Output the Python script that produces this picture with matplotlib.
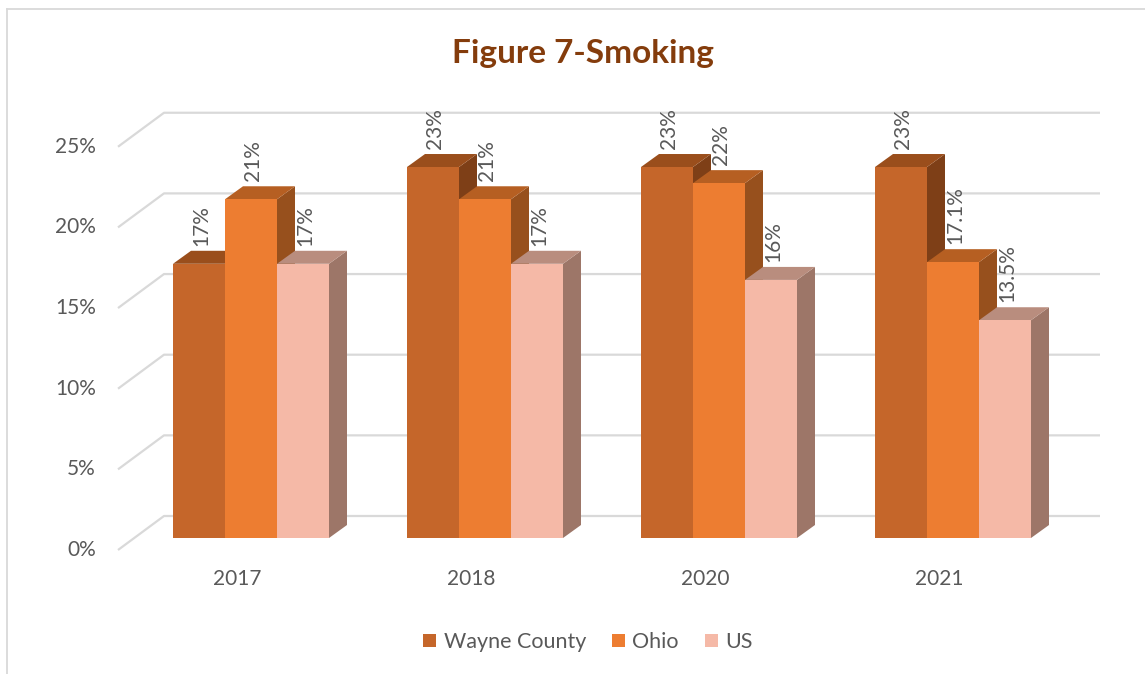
import matplotlib
matplotlib.use('Agg')
import matplotlib.pyplot as plt
from matplotlib.patches import Polygon, Patch
from matplotlib.lines import Line2D

plt.rcParams['font.family'] = ['Lato', 'DejaVu Sans']

# ---- data ----
years = ['2017', '2018', '2020', '2021']
series_names = ['Wayne County', 'Ohio', 'US']
wayne = [17, 23, 23, 23]
ohio = [21, 21, 22, 17.1]
us = [17, 17, 16, 13.5]
wayne_labels = ['17%', '23%', '23%', '23%']
ohio_labels = ['21%', '21%', '22%', '17.1%']
us_labels = ['17%', '17%', '16%', '13.5%']
yticks = [0, 5, 10, 15, 20, 25]
ytick_labels = ['0%', '5%', '10%', '15%', '20%', '25%']

series_values = [wayne, ohio, us]
series_labels = [wayne_labels, ohio_labels, us_labels]
front_colors = ['#C5662A', '#ED7D31', '#F5B9A7']
top_colors = ['#9A4E1C', '#B65F22', '#B98D7E']
side_colors = ['#7E3F17', '#97501D', '#9D7668']
text_color = '#595959'
grid_color = '#D9D9D9'

W, H = 1145, 674
fig = plt.figure(figsize=(W / 100, H / 100), dpi=100)
# axes placed in pixel layout; data plane = bar front plane
ax_l, ax_r, ax_t, ax_b = 100, 1110, 100, 560
ax = fig.add_axes([ax_l / W, 1 - ax_b / H, (ax_r - ax_l) / W, (ax_b - ax_t) / H])
x0_px, step_px = 251, 234          # pixel of category 0 center, px per category
y0_px, ypx = 538, 16.13            # pixel of 0% on bar plane, px per percent
ax.set_xlim((ax_l - x0_px) / step_px, (ax_r - x0_px) / step_px)
ax.set_ylim((y0_px - ax_b) / ypx, (y0_px - ax_t) / ypx)
ax.axis('off')

ppx = (ax_r - ax_l) / (ax.get_xlim()[1] - ax.get_xlim()[0])
ppy = (ax_b - ax_t) / (ax.get_ylim()[1] - ax.get_ylim()[0])


def off(x, y, dxp, dyp):
    return (x + dxp / ppx, y + dyp / ppy)


# depth offsets (pixels, y up)
bar_d = (18, 13)
wall_d = (30, 22)
floor_d = (-16, -12)
x_wall_l, x_wall_r = -0.5, len(years) - 0.5
fs = 15

# gridlines on side wall and back wall
for t, lab in zip(yticks, ytick_labels):
    p_front = off(x_wall_l, t, *floor_d)
    p_back_l = off(x_wall_l, t, *wall_d)
    p_back_r = off(x_wall_r, t, *wall_d)
    ax.plot([p_front[0], p_back_l[0], p_back_r[0]],
            [p_front[1], p_back_l[1], p_back_r[1]],
            color=grid_color, lw=1.6, zorder=1, solid_capstyle='butt')
    ax.annotate(lab, (x_wall_l, t), xytext=(-38, -12), textcoords='offset pixels',
                ha='right', va='center', fontsize=fs, color=text_color)

bw = 52 / step_px
z = 2.0
for i, yr in enumerate(years):
    for s in range(len(series_names)):
        v = series_values[s][i]
        xc = i + (s - 1) * bw
        xl, xr = xc - bw / 2, xc + bw / 2
        dx, dy = bar_d[0] / ppx, bar_d[1] / ppy
        side = Polygon([(xr, 0), (xr, v), (xr + dx, v + dy), (xr + dx, dy)],
                       closed=True, facecolor=side_colors[s], edgecolor='none', zorder=z)
        top = Polygon([(xl, v), (xr, v), (xr + dx, v + dy), (xl + dx, v + dy)],
                      closed=True, facecolor=top_colors[s], edgecolor='none', zorder=z + 0.01)
        ax.add_patch(side)
        ax.add_patch(top)
        ax.bar(xc, v, width=bw, color=front_colors[s], zorder=z + 0.02, linewidth=0)
        z += 0.1
        ax.annotate(series_labels[s][i], (xc, v), xytext=(2, 18), textcoords='offset pixels',
                    rotation=90, ha='center', va='bottom', fontsize=fs,
                    color=text_color, zorder=50)
    ax.annotate(yr, (i, 0), xytext=(-14, -41), textcoords='offset pixels',
                ha='center', va='center', fontsize=fs, color=text_color)

# title
fig.text(583 / W, 1 - 53 / H, 'Figure 7-Smoking', ha='center', va='center',
         fontsize=24, fontweight='bold', color='#843C0C')

# legend
handles = [Patch(facecolor=c, edgecolor='none') for c in front_colors]
fig.legend(handles, series_names, loc='center', bbox_to_anchor=(588 / W, 1 - 642 / H),
           ncol=3, frameon=False, fontsize=15.5, handlelength=0.6, handleheight=0.6,
           handletextpad=0.35, columnspacing=1.2, labelcolor=text_color)

# chart border (top and left visible)
fig.add_artist(Line2D([7 / W, 1.0], [1 - 9 / H, 1 - 9 / H], color=grid_color, lw=1.3,
                      transform=fig.transFigure))
fig.add_artist(Line2D([7 / W, 7 / W], [1 - 9 / H, 0.0], color=grid_color, lw=1.3,
                      transform=fig.transFigure))

fig.savefig('out.png', dpi=100, facecolor='white')
